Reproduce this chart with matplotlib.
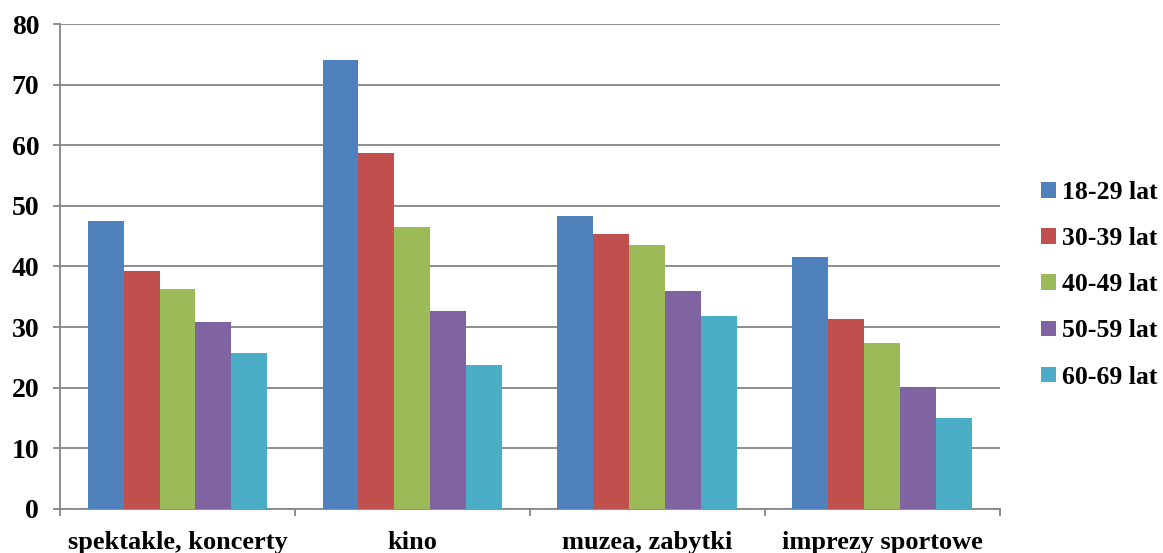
import matplotlib
matplotlib.use("Agg")
import matplotlib.pyplot as plt
import numpy as np

categories = ["spektakle, koncerty", "kino", "muzea, zabytki", "imprezy sportowe"]
series_names = ["18-29 lat", "30-39 lat", "40-49 lat", "50-59 lat", "60-69 lat"]
v18_29 = [47.5, 74.0, 48.3, 41.5]
v30_39 = [39.2, 58.7, 45.3, 31.4]
v40_49 = [36.3, 46.5, 43.6, 27.4]
v50_59 = [30.9, 32.7, 36.0, 20.2]
v60_69 = [25.7, 23.8, 31.9, 15.0]
yticks = [0, 10, 20, 30, 40, 50, 60, 70, 80]

series = [v18_29, v30_39, v40_49, v50_59, v60_69]
colors = ["#4F81BD", "#C0504D", "#9BBB59", "#8064A2", "#4BACC6"]

plt.rcParams['font.family'] = ['Liberation Serif', 'DejaVu Serif']
plt.rcParams['font.weight'] = 'bold'

fig = plt.figure(figsize=(11.63, 5.53), dpi=100)
ax = fig.add_axes([0.0516, 0.0796, 0.808, 0.877])

x = np.arange(len(categories))
bw = 0.153
n = len(series)
for i, (vals, c, name) in enumerate(zip(series, colors, series_names)):
    ax.bar(x + (i - (n - 1) / 2) * bw, vals, bw, color=c, label=name, zorder=3)

ax.set_xlim(-0.5, len(categories) - 0.5)
ax.set_ylim(0, 80)
ax.set_yticks(yticks)
ax.set_yticklabels([str(t) for t in yticks], fontsize=20, fontweight='bold')
ax.yaxis.grid(True, color='#868686', linewidth=1.3, zorder=0)
ax.set_xticks(x)
ax.set_xticklabels(categories, fontsize=19, fontweight='bold')
ax.set_xticks(np.arange(len(categories) + 1) - 0.5, minor=True)
ax.tick_params(axis='x', which='major', length=0, pad=16)
ax.tick_params(axis='x', which='minor', length=5, color='#868686', width=1.3)
ax.tick_params(axis='y', length=5, color='#868686', width=1.3, pad=10)
for s in ['top', 'right']:
    ax.spines[s].set_visible(False)
for s in ['left', 'bottom']:
    ax.spines[s].set_color('#868686')
    ax.spines[s].set_linewidth(1.3)

fig.legend(loc='center left', bbox_to_anchor=(0.8955, 0.485), frameon=False,
           prop={'size': 18.5, 'weight': 'bold'}, handlelength=0.55, handleheight=0.55,
           handletextpad=0.25, labelspacing=0.9, borderpad=0, borderaxespad=0)

fig.savefig("out.png", dpi=100)
